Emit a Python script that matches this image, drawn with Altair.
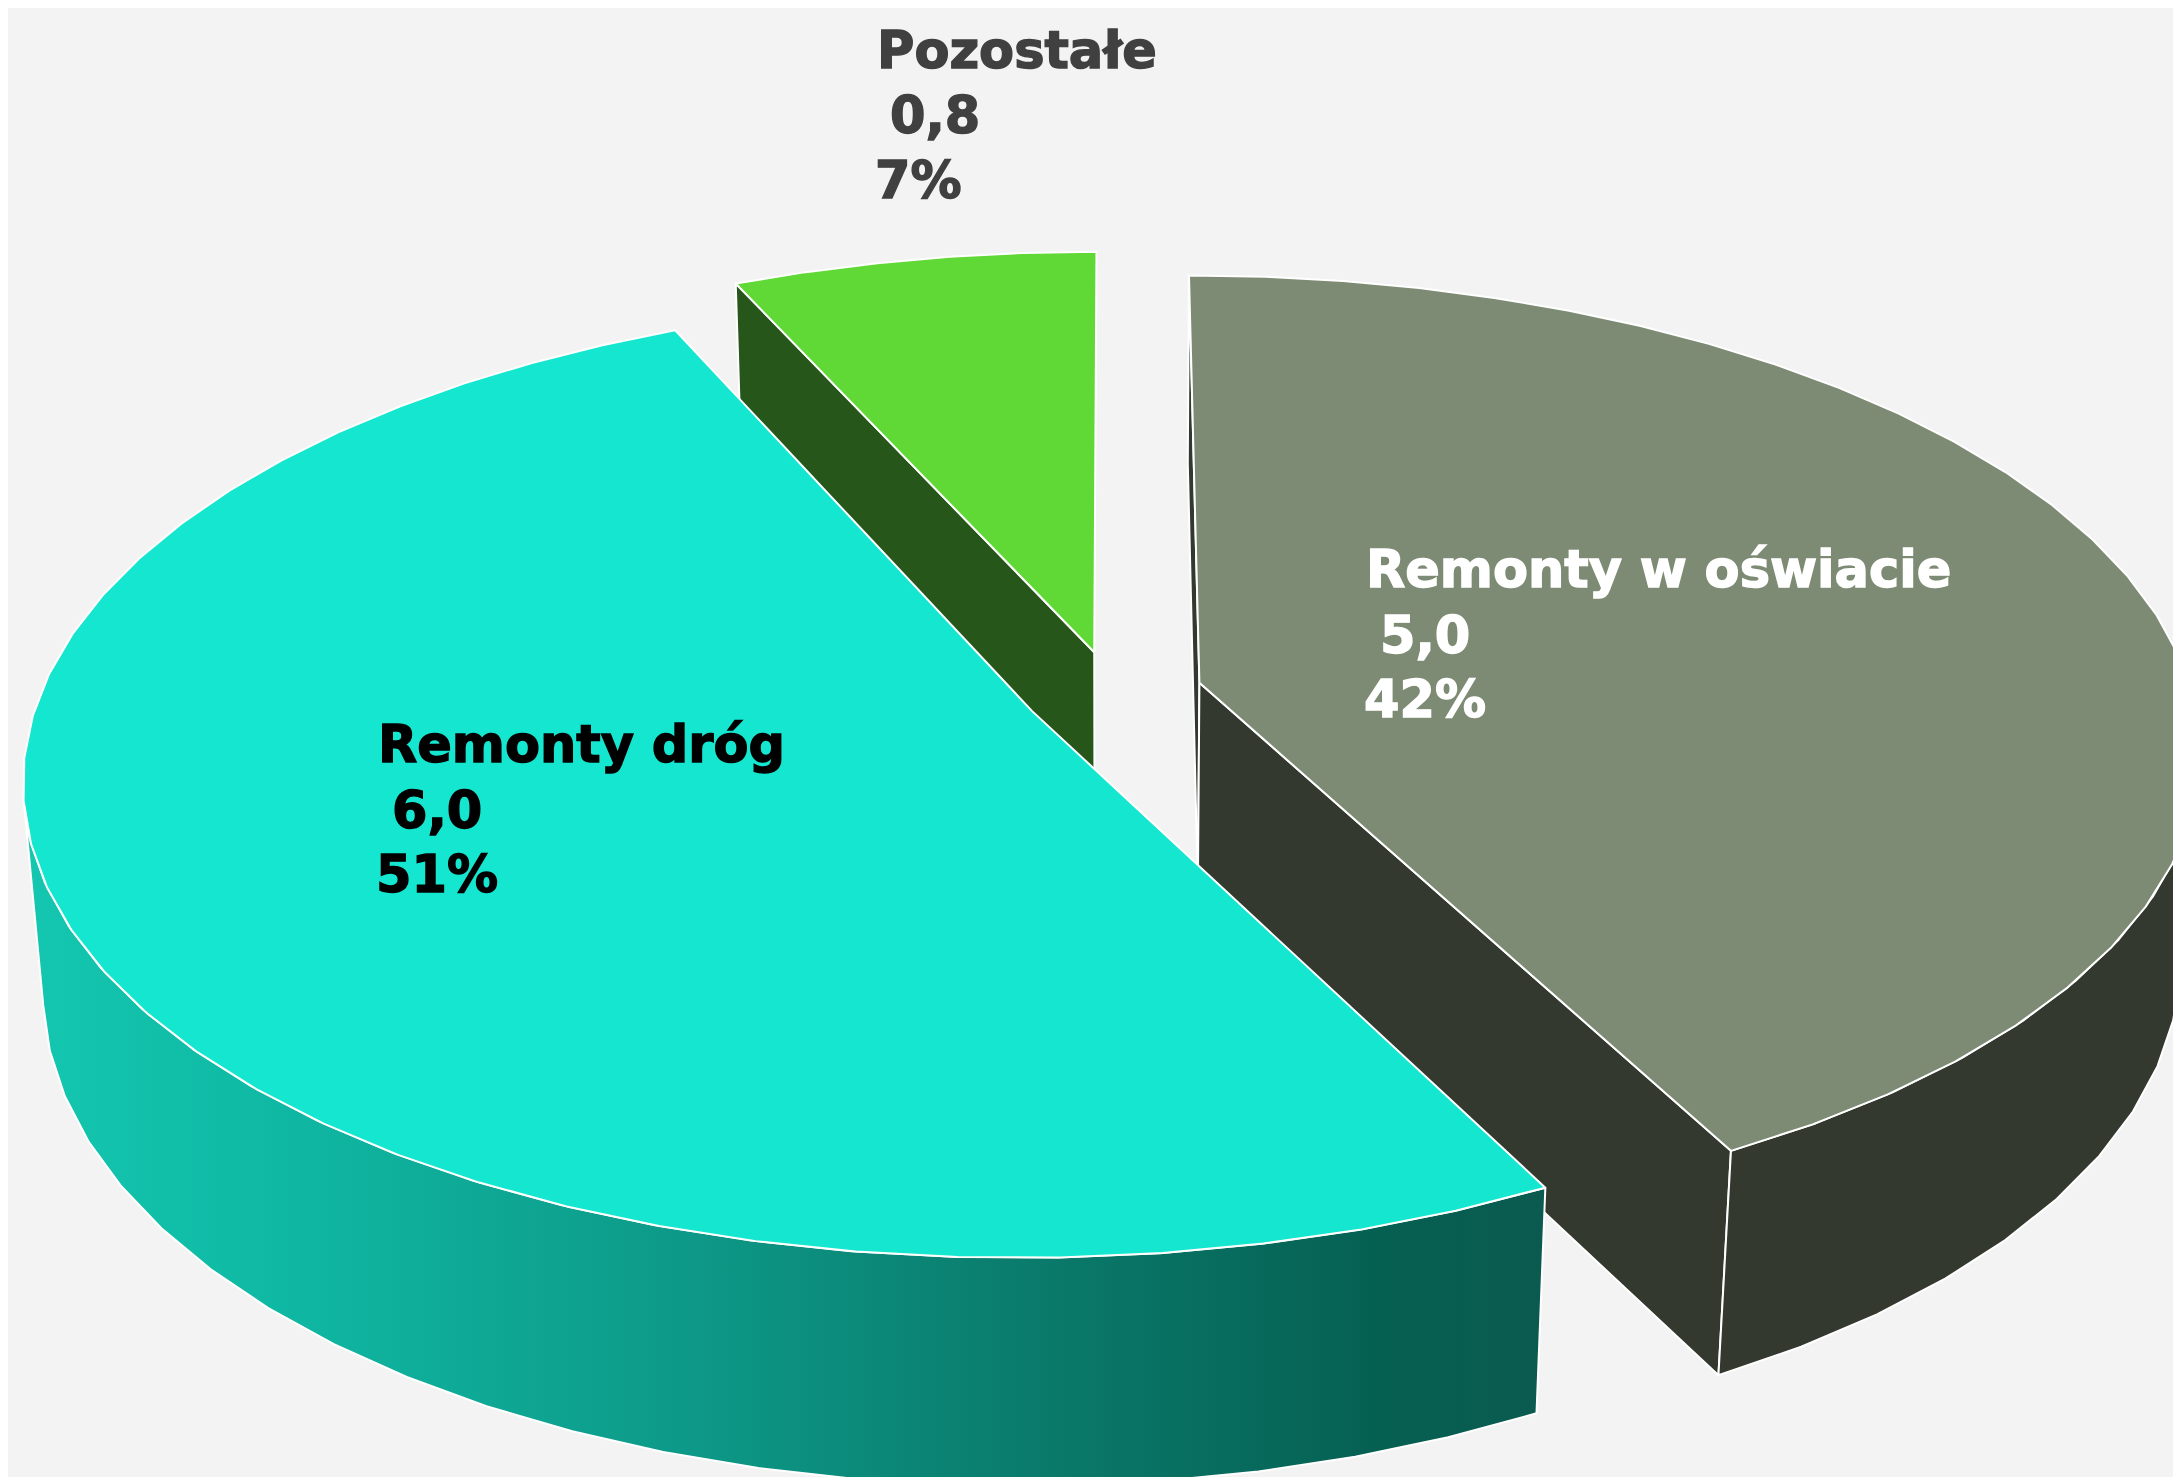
import math
import altair as alt
import pandas as pd

# --- chart values
categories = ["Remonty w oświacie", "Remonty dróg", "Pozostałe"]
values = [5.0, 6.0, 0.8]
value_text = ["5,0", "6,0", "0,8"]
share_text = ["42%", "51%", "7%"]
top_colors = ["#7e8b74", "#14e6d0", "#60d835"]
wall_colors = ["#33392e", "#0b5c51", "#26561a"]
text_colors = ["#ffffff", "#000000", "#404040"]
gradient_colors = ["#14c7b0", "#0fb8a3", "#0d9786", "#0a7a6b", "#056052", "#0b5a50"]
gradient_offsets = [0.0, 0.17, 0.45, 0.67, 0.89, 1.0]
label_x = [[1366, 1380, 1364], [378, 392, 376], [877, 890, 875]]
label_y = [[587, 653, 717], [762, 828, 892], [68, 133, 198]]
BG = "#f3f3f3"

# --- perspective camera of the pie (fitted to the picture)
CX, CY, A, B, K = 1112.9, 692.7, 992.5, 466.0, 0.1376
EXPLODE, DEPTH_Q, DEPTH_C = 0.09, 0.0182, 210.0
STEP = 5.08
W, H = 2165, 1469

total = sum(values)
spans = []
a = 0.0
for v in values:
    b = a + v / total * 360.0
    spans.append((a, b))
    a = b


def project(u, v, low):
    d = 1 + K * v + (DEPTH_Q if low else 0)
    return (CX + A * u / d, CY + (-B * v + (DEPTH_C if low else 0)) / d)


def offset(i):
    m = math.radians(sum(spans[i]) / 2)
    return EXPLODE * math.sin(m), EXPLODE * math.cos(m)


def rim(i, deg, low=False):
    ou, ov = offset(i)
    r = math.radians(deg)
    return project(ou + math.sin(r), ov + math.cos(r), low)


def apex(i, low=False):
    ou, ov = offset(i)
    return project(ou, ov, low)


def angles(a0, a1):
    n = max(1, round((a1 - a0) / STEP))
    return [a0 + (a1 - a0) * j / n for j in range(n + 1)]


xs = alt.Scale(domain=[8, 8 + W], range=[0, W], nice=False, zero=False)
ys = alt.Scale(domain=[8 + H, 8], nice=False, zero=False)


def face(points, fill):
    df = pd.DataFrame(points + points[:1], columns=["x", "y"])
    df["i"] = range(len(df))
    return alt.Chart(df).mark_line(
        fill=fill, stroke="white", strokeWidth=2, strokeJoin="round", clip=True
    ).encode(
        x=alt.X("x:Q", scale=xs, axis=None),
        y=alt.Y("y:Q", scale=ys, axis=None),
        order="i:Q",
    )


def top_face(i):
    return face([apex(i)] + [rim(i, d) for d in angles(*spans[i])], top_colors[i])


def inner_wall(i, deg):
    return face([apex(i), rim(i, deg), rim(i, deg, True), apex(i, True)], wall_colors[i])


def outer_wall(i, a0, a1, fill):
    ang = angles(a0, a1)
    return face([rim(i, d) for d in ang] + [rim(i, d, True) for d in reversed(ang)], fill)


gradient = alt.LinearGradient(
    gradient="linear",
    x1=0, x2=1, y1=0, y2=0,
    stops=[alt.GradientStop(color=c, offset=o) for c, o in zip(gradient_colors, gradient_offsets)],
)

GREY, CYAN, GREEN = 0, 1, 2
layers = [
    inner_wall(GREEN, spans[GREEN][0]),
    top_face(GREEN),
    inner_wall(GREY, spans[GREY][0]),
    inner_wall(GREY, spans[GREY][1]),
    outer_wall(GREY, 100.0, spans[GREY][1], wall_colors[GREY]),
    top_face(GREY),
    outer_wall(CYAN, spans[CYAN][0], 260.0, gradient),
    top_face(CYAN),
]

rows = []
for i, name in enumerate(categories):
    for j, t in enumerate([name, value_text[i], share_text[i]]):
        rows.append({"t": t, "x": label_x[i][j], "y": label_y[i][j], "c": text_colors[i]})
labels = alt.Chart(pd.DataFrame(rows)).mark_text(
    font="DejaVu Sans", fontWeight="bold", fontSize=51, align="left", baseline="alphabetic",
    strokeWidth=1.4,
).encode(
    x=alt.X("x:Q", scale=xs, axis=None),
    y=alt.Y("y:Q", scale=ys, axis=None),
    text="t:N",
    color=alt.Color("c:N", scale=None, legend=None),
    stroke=alt.Stroke("c:N", scale=None, legend=None),
)
layers.append(labels)

chart = alt.layer(*layers).properties(
    width=W, height=H, background=BG, padding=0, autosize=alt.AutoSizeParams(type="none")
).configure_view(strokeWidth=0)

chart.save("out.html", embed_options={"renderer": "svg", "actions": False})
